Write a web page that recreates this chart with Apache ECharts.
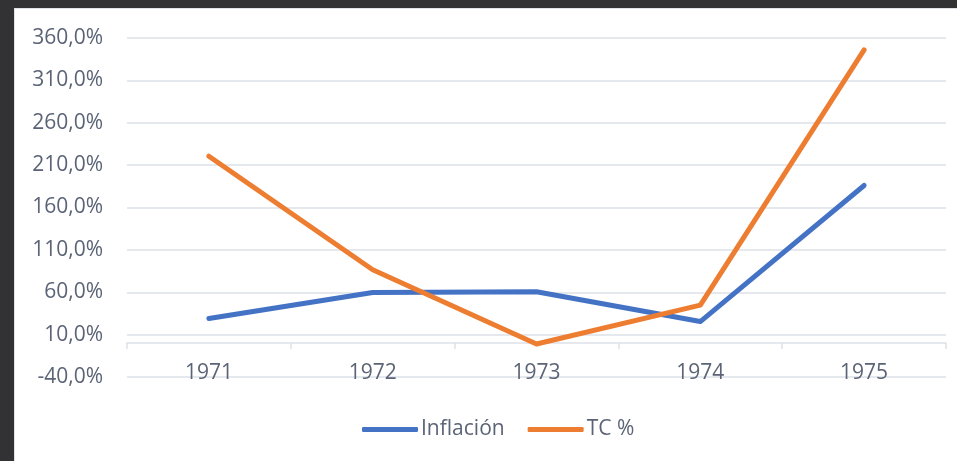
<!DOCTYPE html>
<html>
<head>
<meta charset="utf-8">
<script src="https://cdn.jsdelivr.net/npm/echarts@6/dist/echarts.min.js"></script>
<style>
    html, body { margin: 0; padding: 0; }
    body { width: 957px; height: 461px; background: #323234; position: relative; overflow: hidden; }
    #chart {
        position: absolute; left: 14px; top: 8px; width: 943px; height: 453px;
        background: #ffffff; border-left: 1px solid #dfe3e8; border-top: 1px solid #dfe3e8;
        box-sizing: border-box;
    }
</style>
</head>
<body>
<div id="chart"></div>
<script>
// 数据
const years = ['1971', '1972', '1973', '1974', '1975'];
const inflacion = [29, 59.8, 60.5, 25.4, 186];
const tcPct = [220.5, 86.5, -1, 44.8, 346];

// 坐标轴刻度
const yMin = -40;
const yMax = 360;
const yStep = 50;

const labelColor = '#5b6476';
const gridColor = '#dde1e7';
const fontFamily = '"Open Sans", sans-serif';

function fmtPct(v) {
    return v.toFixed(1).replace('.', ',') + '%';
}

function initChart() {
    const chart = echarts.init(document.getElementById('chart'));

    const option = {
        animation: false,
        grid: { left: 112, right: 11, top: 29, bottom: 84 },
        legend: {
            bottom: 16,
            left: 342,
            itemWidth: 56,
            itemHeight: 5,
            itemGap: 23,
            icon: 'roundRect',
            textStyle: { color: labelColor, fontSize: 21, fontFamily: fontFamily, padding: [0, 0, 0, -2] },
            data: ['Inflación', 'TC %']
        },
        xAxis: {
            type: 'category',
            data: years,
            boundaryGap: true,
            axisLine: { onZero: true, lineStyle: { color: gridColor, width: 1.5 } },
            axisTick: { show: true, length: 6, lineStyle: { color: gridColor, width: 1.5 } },
            axisLabel: { color: labelColor, fontSize: 21, fontFamily: fontFamily, margin: -14 },
            splitLine: { show: false }
        },
        yAxis: {
            type: 'value',
            min: yMin,
            max: yMax,
            interval: yStep,
            axisLine: { show: false },
            axisTick: { show: false },
            axisLabel: {
                color: labelColor, fontSize: 21, fontFamily: fontFamily, margin: 24,
                formatter: fmtPct
            },
            splitLine: { lineStyle: { color: gridColor, width: 1.5 } }
        },
        series: [
            {
                name: 'Inflación',
                type: 'line',
                data: inflacion,
                showSymbol: false,
                symbol: 'none',
                color: '#4472c4',
                lineStyle: { width: 5, cap: 'round', join: 'round' }
            },
            {
                name: 'TC %',
                type: 'line',
                data: tcPct,
                showSymbol: false,
                symbol: 'none',
                color: '#ed7d31',
                lineStyle: { width: 5, cap: 'round', join: 'round' }
            }
        ]
    };

    chart.setOption(option);
}

document.addEventListener('DOMContentLoaded', initChart);
</script>
</body>
</html>
